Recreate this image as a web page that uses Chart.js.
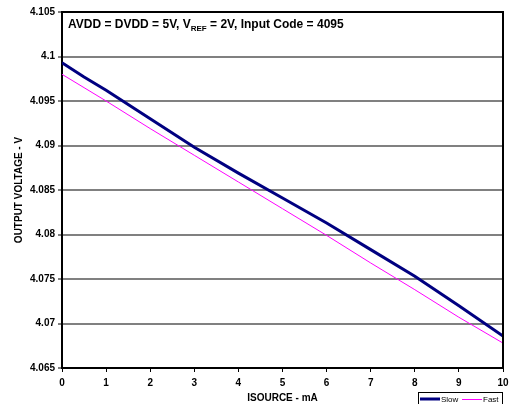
<!DOCTYPE html>
<html>
<head>
<meta charset="utf-8">
<script src="https://cdn.jsdelivr.net/npm/chart.js@4/dist/chart.umd.min.js"></script>
<style>
  html, body { margin: 0; padding: 0; background: #fff; }
  #wrap { width: 509px; height: 404px; }
</style>
</head>
<body>
<div id="wrap"><canvas id="chart" width="509" height="404"></canvas></div>
<script>
// Data
const isource = [0, 0.5, 1, 2, 3, 4, 5, 6, 7, 8, 9, 10];
const slowVolts = [4.0993, 4.0977, 4.0962, 4.0930, 4.0898, 4.0869, 4.0841, 4.0813, 4.0783, 4.0753, 4.0720, 4.0686];
const fastVolts = [4.0980, 4.0965, 4.0950, 4.0919, 4.0889, 4.0859, 4.0829, 4.0799, 4.0768, 4.0738, 4.0707, 4.0678];
const yTickLabels = ['4.065', '4.07', '4.075', '4.08', '4.085', '4.09', '4.095', '4.1', '4.105'];
const xTickLabels = ['0', '1', '2', '3', '4', '5', '6', '7', '8', '9', '10'];
const seriesNames = ['Slow', 'Fast'];

const FONT = 'Liberation Sans, Arial, sans-serif';

function toPoints(ys) {
    return isource.map((x, i) => ({ x: x, y: ys[i] }));
}

// frame, caption and legend drawn on top
const extras = {
    id: 'extras',
    afterDraw(chart) {
        const c = chart.ctx;
        const a = chart.chartArea;
        c.save();
        // top / right border
        c.strokeStyle = '#000';
        c.lineWidth = 2;
        c.beginPath();
        c.moveTo(a.left, a.top);
        c.lineTo(a.right, a.top);
        c.lineTo(a.right, a.bottom);
        c.stroke();

        // caption with subscript
        c.fillStyle = '#000';
        c.textBaseline = 'alphabetic';
        c.textAlign = 'left';
        let x = a.left + 6;
        const y = a.top + 16;
        c.font = 'bold 12px ' + FONT;
        let s = 'AVDD = DVDD = 5V, V';
        c.fillText(s, x, y);
        x += c.measureText(s).width;
        c.font = 'bold 8px ' + FONT;
        s = 'REF';
        c.fillText(s, x, y + 3);
        x += c.measureText(s).width;
        c.font = 'bold 12px ' + FONT;
        c.fillText(' = 2V, Input Code = 4095', x, y);

        // legend box (bottom right, partly cut off)
        const lx = 418, ly = 392;
        c.fillStyle = '#fff';
        c.fillRect(lx, ly, 84, 14);
        c.strokeStyle = '#000';
        c.lineWidth = 1;
        c.strokeRect(lx + 0.5, ly + 0.5, 84, 14);
        c.font = '8px ' + FONT;
        c.textBaseline = 'middle';
        c.fillStyle = '#000';
        c.strokeStyle = '#000080';
        c.lineWidth = 3;
        c.beginPath();
        c.moveTo(420, ly + 7);
        c.lineTo(440, ly + 7);
        c.stroke();
        c.fillText(seriesNames[0], 441, ly + 8);
        c.strokeStyle = '#FF00FF';
        c.lineWidth = 1;
        c.beginPath();
        c.moveTo(462, ly + 7.5);
        c.lineTo(482, ly + 7.5);
        c.stroke();
        c.fillText(seriesNames[1], 483, ly + 8);
        c.restore();
    }
};

const chart = new Chart(document.getElementById('chart'), {
    type: 'line',
    data: {
        datasets: [{
            label: seriesNames[0],
            data: toPoints(slowVolts),
            borderColor: '#000080',
            borderWidth: 3,
            pointRadius: 0,
            tension: 0,
            fill: false
        }, {
            label: seriesNames[1],
            data: toPoints(fastVolts),
            borderColor: '#FF00FF',
            borderWidth: 1,
            pointRadius: 0,
            tension: 0,
            fill: false
        }]
    },
    options: {
        responsive: false,
        animation: false,
        layout: { padding: { left: 0, right: 6, top: 12, bottom: 0 } },
        plugins: {
            legend: { display: false },
            tooltip: { enabled: false }
        },
        scales: {
            x: {
                type: 'linear',
                min: 0,
                max: 10,
                afterFit(scale) {
                    scale.height = 36;
                    scale.paddingLeft = 0;
                    scale.paddingRight = 0;
                },
                afterBuildTicks(scale) {
                    scale.ticks = xTickLabels.map(v => ({ value: Number(v) }));
                },
                grid: {
                    drawOnChartArea: false,
                    tickLength: 4,
                    tickColor: '#000',
                    tickWidth: 1
                },
                border: { color: '#000', width: 2 },
                ticks: {
                    color: '#000',
                    padding: 5,
                    maxRotation: 0,
                    font: { family: FONT, size: 10, weight: 'bold' },
                    callback: (v) => String(v)
                },
                title: {
                    display: true,
                    text: 'ISOURCE - mA',
                    color: '#000',
                    font: { family: FONT, size: 10, weight: 'bold' },
                    padding: { top: 0, bottom: 0 }
                }
            },
            y: {
                type: 'linear',
                min: 4.065,
                max: 4.105,
                afterFit(scale) { scale.width = 62; },
                afterBuildTicks(scale) {
                    scale.ticks = yTickLabels.map(v => ({ value: Number(v) }));
                },
                grid: {
                    color: '#808080',
                    lineWidth: 2,
                    tickLength: 4,
                    tickColor: '#000',
                    tickWidth: 1
                },
                border: { color: '#000', width: 2 },
                ticks: {
                    color: '#000',
                    padding: 3,
                    font: { family: FONT, size: 10, weight: 'bold' },
                    callback: (v) => yTickLabels.find(t => Number(t) === v) || ''
                },
                title: {
                    display: true,
                    text: 'OUTPUT VOLTAGE - V',
                    color: '#000',
                    font: { family: FONT, size: 10, weight: 'bold' },
                    padding: { top: 13, bottom: 0 }
                }
            }
        }
    },
    plugins: [extras]
});
</script>
</body>
</html>
